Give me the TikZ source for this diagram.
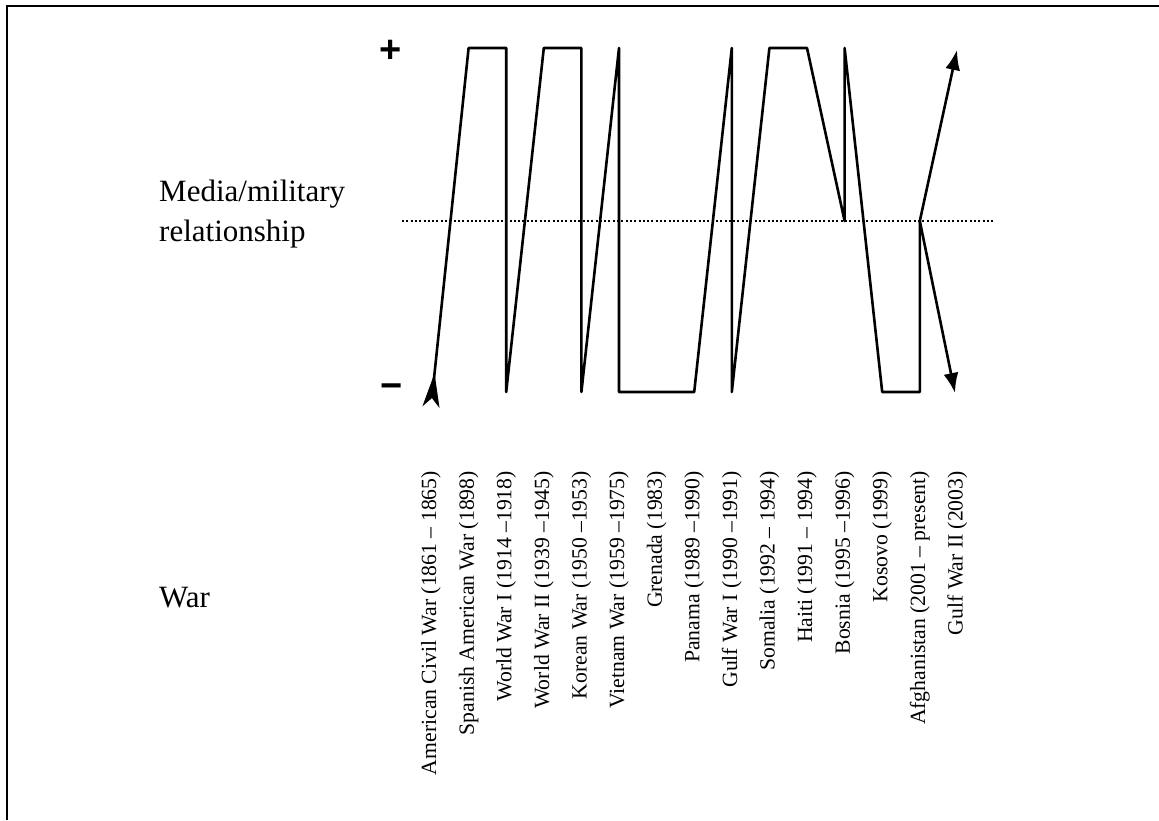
\documentclass[tikz,border=0pt]{standalone}
\usepackage{fontspec}
\setmainfont{Liberation Serif}
\newfontfamily\signfont{Liberation Sans}
\usetikzlibrary{arrows.meta}
\begin{document}
\begin{tikzpicture}[x=1pt,y=-1pt,
  frame/.style={line width=2pt},
  trace/.style={line width=2.6pt, line join=round},
  midline/.style={line width=2pt, dash pattern=on 2pt off 2.3pt},
  warlabel/.style={rotate=90, anchor=east, inner sep=0pt,
    font=\fontsize{21.7}{26}\selectfont},
  sidelabel/.style={anchor=base west, inner sep=0pt,
    font=\fontsize{31}{40}\selectfont},
  sign/.style={inner sep=0pt, font=\signfont\bfseries\fontsize{38}{38}\selectfont}]
\useasboundingbox (0,0) rectangle (1159,820);
% frame: only the top and left edges fall inside the page
\draw[frame] (7,820) -- (7,6) -- (1159,6);

% scale signs
\node[sign] (plus)  at (391,51)  {+};
\node[sign] (minus) at (392,391) {−};

% axis labels
\node[sidelabel] (rel1) at (159,201) {Media/military};
\node[sidelabel] (rel2) at (159,241) {relationship};
\node[sidelabel] (war) at (159,607) {War};

% neutral line
\coordinate (m0) at (402,221);
\coordinate (m1) at (995,221);
\draw[midline] (m0) -- (m1);

% column positions, one per war
\foreach \i/\t in {
  0/{American Civil War (1861 – 1865)},
  1/{Spanish American War (1898)},
  2/{World War I (1914 –1918)},
  3/{World War II (1939 –1945)},
  4/{Korean War (1950 –1953)},
  5/{Vietnam War (1959 –1975)},
  6/{Grenada (1983)},
  7/{Panama (1989 –1990)},
  8/{Gulf War I (1990 –1991)},
  9/{Somalia (1992 – 1994)},
  10/{Haiti (1991 – 1994)},
  11/{Bosnia (1995 –1996)},
  12/{Kosovo (1999)},
  13/{Afghanistan (2001 – present)},
  14/{Gulf War II (2003)}}{
  \pgfmathsetmacro{\xx}{431+37.6*\i}
  \coordinate (top\i) at (\xx,48);
  \coordinate (mid\i) at (\xx,221);
  \coordinate (bot\i) at (\xx,392);
  \node[warlabel] (lab\i) at (\xx,471) {\t};
}
\coordinate (start) at (431,407);
\coordinate (upend) at (957,50);
\coordinate (downend) at (955,393);

% relationship trace
\draw[trace, {Stealth[reversed, length=34pt, width=17pt, inset=9pt]}-]
  (start) -- (top1) -- (top2) -- (bot2) -- (top3) -- (top4) -- (bot4)
  -- (top5) -- (bot5) -- (bot7) -- (top8) -- (bot8) -- (top9) -- (top10)
  -- (mid11) -- (top11) -- (bot12) -- (bot13) -- (mid13);
\draw[trace, -{Latex[length=20pt, width=15pt]}] (mid13) -- (upend);
\draw[trace, -{Latex[length=20pt, width=15pt]}] (mid13) -- (downend);
\end{tikzpicture}
\end{document}
